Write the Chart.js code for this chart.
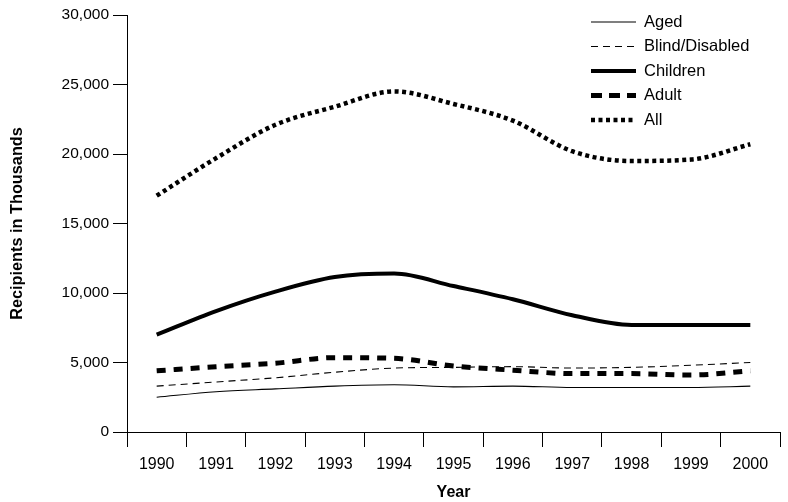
<!DOCTYPE html>
<html>
<head>
<meta charset="utf-8">
<script src="https://cdn.jsdelivr.net/npm/chart.js@4/dist/chart.umd.min.js"></script>
<style>
  html, body { margin: 0; padding: 0; background: #fff; }
  #wrap { width: 788px; height: 502px; }
</style>
</head>
<body>
<div id="wrap"><canvas id="chart" width="788" height="502"></canvas></div>
<script>
// === Data ===
const years = ["1990", "1991", "1992", "1993", "1994", "1995", "1996", "1997", "1998", "1999", "2000"];
const aged = [2500, 2900, 3100, 3300, 3400, 3250, 3300, 3200, 3200, 3200, 3300];
const blindDisabled = [3300, 3600, 3900, 4300, 4600, 4650, 4700, 4600, 4650, 4800, 5000];
const children = [7000, 8700, 10100, 11150, 11400, 10500, 9550, 8400, 7700, 7700, 7700];
const adult = [4400, 4700, 4950, 5350, 5300, 4750, 4450, 4200, 4200, 4100, 4400];
const all = [17000, 19700, 22100, 23400, 24500, 23600, 22400, 20200, 19500, 19600, 20700];
const yTicks = [0, 5000, 10000, 15000, 20000, 25000, 30000];

const FONT = "'Liberation Sans', Arial, Helvetica, sans-serif";

// legend drawn as line samples in the top right of the plot
const lineLegend = {
  id: "lineLegend",
  afterDraw(chart) {
    const ctx = chart.ctx;
    const x0 = 591, y0 = 22, rowH = 24.5, len = 45;
    ctx.save();
    chart.data.datasets.forEach((ds, i) => {
      const y = y0 + i * rowH;
      ctx.strokeStyle = ds.borderColor;
      ctx.lineWidth = ds.borderWidth;
      ctx.setLineDash(ds.legendDash || ds.borderDash || []);
      ctx.beginPath();
      ctx.moveTo(x0, y);
      ctx.lineTo(x0 + len, y);
      ctx.stroke();
      ctx.setLineDash([]);
      ctx.fillStyle = "#000";
      ctx.font = "16.5px " + FONT;
      ctx.textBaseline = "middle";
      ctx.fillText(ds.label, x0 + 53, y);
    });
    ctx.restore();
  }
};

const ctx = document.getElementById("chart").getContext("2d");
new Chart(ctx, {
  type: "line",
  data: {
    labels: years,
    datasets: [
      { label: "Aged", data: aged, borderColor: "#000", borderWidth: 1.1, borderDash: [] },
      { label: "Blind/Disabled", data: blindDisabled, borderColor: "#000", borderWidth: 1.1, borderDash: [7, 5] },
      { label: "Children", data: children, borderColor: "#000", borderWidth: 4 },
      { label: "Adult", data: adult, borderColor: "#000", borderWidth: 5, borderDash: [9, 8], legendDash: [11, 7] },
      { label: "All", data: all, borderColor: "#000", borderWidth: 4.5, borderDash: [4, 3.5] }
    ]
  },
  options: {
    responsive: false,
    animation: false,
    devicePixelRatio: 1,
    layout: { padding: { top: 15, right: 8, left: 0, bottom: 0 } },
    elements: {
      point: { radius: 0 },
      line: { cubicInterpolationMode: "monotone", borderCapStyle: "butt", fill: false }
    },
    plugins: {
      legend: { display: false },
      tooltip: { enabled: false }
    },
    scales: {
      x: {
        offset: true,
        grid: { offset: true, drawOnChartArea: false, color: "#000", tickLength: 15, tickColor: "#000" },
        border: { display: true, color: "#000", width: 1 },
        ticks: { color: "#000", font: { family: FONT, size: 16 }, padding: 8, maxRotation: 0 },
        title: { display: true, text: "Year", color: "#000", font: { family: FONT, size: 16, weight: "bold" }, padding: { top: 2, bottom: 0 } },
        afterFit(scale) { scale.height = 70; }
      },
      y: {
        min: 0,
        max: 30000,
        afterBuildTicks(scale) { scale.ticks = yTicks.map(v => ({ value: v })); },
        grid: { drawOnChartArea: false, color: "#000", tickLength: 14, tickColor: "#000" },
        border: { display: true, color: "#000", width: 1 },
        ticks: {
          color: "#000",
          font: { family: FONT, size: 15.5 },
          padding: 4,
          callback: v => v.toLocaleString("en-US")
        },
        title: { display: true, text: "Recipients in Thousands", color: "#000", font: { family: FONT, size: 16.3, weight: "bold" }, padding: { top: 8, bottom: 6 } },
        afterFit(scale) { scale.width = 127; }
      }
    }
  },
  plugins: [lineLegend]
});
</script>
</body>
</html>
